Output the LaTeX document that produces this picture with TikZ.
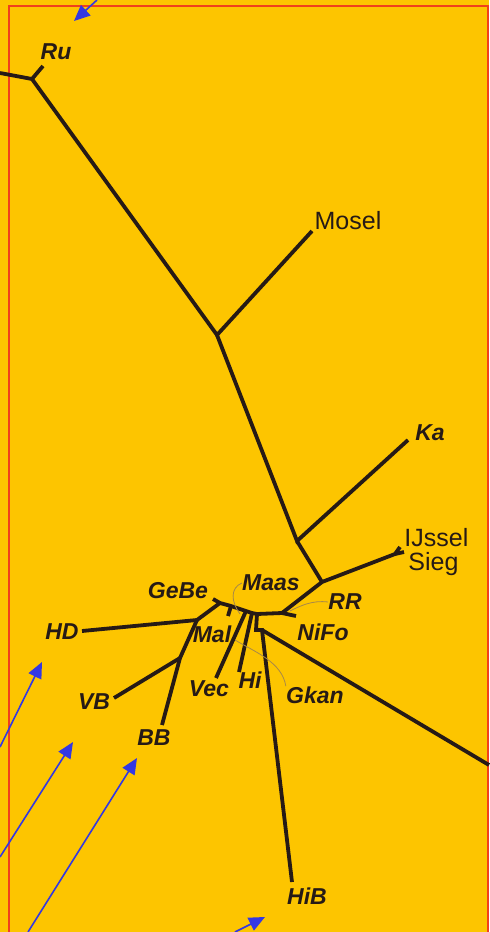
\documentclass[tikz,border=0pt]{standalone}
\usepackage{fontspec}
\setmainfont{Liberation Sans}
\usetikzlibrary{arrows.meta}

\definecolor{bg}{RGB}{253,197,0}
\definecolor{ink}{RGB}{38,26,22}
\definecolor{frame}{RGB}{240,64,28}
\definecolor{pointer}{RGB}{52,56,226}
\definecolor{leader}{RGB}{168,136,72}

\begin{document}
\begin{tikzpicture}[x=0.5pt,y=-0.5pt,
        branch/.style={draw=ink, line width=1.9pt},
        taxon/.style={font=\fontsize{11.5}{12}\selectfont\bfseries\itshape, text=ink, inner sep=0pt},
        river/.style={font=\fontsize{12.5}{13}\selectfont, text=ink, inner sep=0pt},
        lead/.style={draw=leader, line width=0.4pt},
        pointer/.style={draw=pointer, line width=0.8pt, -{Triangle[length=8pt,width=7pt]}}]
        \fill[bg] (0,0) rectangle (489,932);
        \useasboundingbox (0,0) rectangle (489,932);
        \draw[frame, line width=0.75pt] (9,932) -- (9,6) -- (488,6) -- (488,932);
        % inner nodes of the tree
        \coordinate (root) at (0,73);
        \coordinate (jRu) at (32,79);
        \coordinate (jMosel) at (217,335);
        \coordinate (jKa) at (297,541);
        \coordinate (jIJ) at (322,582);
        \coordinate (jSieg) at (395,554);
        \coordinate (jRR) at (282,613);
        \coordinate (jC) at (257,614);
        \coordinate (jHi) at (252,613);
        \coordinate (jVec) at (246,611);
        \coordinate (jMal) at (231,606);
        \coordinate (jGeBe) at (220,603);
        \coordinate (jHD) at (197,620);
        \coordinate (jVB) at (180,658);
        \coordinate (jGkan) at (256,630);
        \coordinate (jHiB) at (262,630);
        % tips
        \coordinate (tRu) at (43,66);
        \coordinate (tMosel) at (312,231);
        \coordinate (tKa) at (408,440);
        \coordinate (tIJssel) at (400,547);
        \coordinate (tSieg) at (404,552);
        \coordinate (tRR) at (296,616);
        \coordinate (tGeBe) at (213,599);
        \coordinate (tMal) at (228,616);
        \coordinate (tVec) at (216,678);
        \coordinate (tHi) at (239,672);
        \coordinate (tHD) at (82,631);
        \coordinate (tVB) at (114,698);
        \coordinate (tBB) at (162,725);
        \coordinate (tHiB) at (292,882);
        \coordinate (tEdge) at (489,765);
        % branches
        \draw[branch] (root) -- (jRu) -- (tRu);
        \draw[branch] (jRu) -- (jMosel) -- (tMosel);
        \draw[branch] (jMosel) -- (jKa) -- (tKa);
        \draw[branch] (jKa) -- (jIJ) -- (jSieg) -- (tIJssel);
        \draw[branch] (jSieg) -- (tSieg);
        \draw[branch] (jIJ) -- (jRR) -- (tRR);
        \draw[branch] (jRR) -- (jC) -- (jHi) -- (jVec) -- (jMal) -- (jGeBe) -- (tGeBe);
        \draw[branch] (jMal) -- (tMal);
        \draw[branch] (jVec) -- (tVec);
        \draw[branch] (jHi) -- (tHi);
        \draw[branch] (jGeBe) -- (jHD) -- (tHD);
        \draw[branch] (jHD) -- (jVB) -- (tBB);
        \draw[branch] (jVB) -- (tVB);
        \draw[branch] (jC) -- (jGkan) -- (jHiB) -- (tHiB);
        \draw[branch] (jHiB) -- (tEdge);
        % labels
        \node[taxon] (ru) at (56,52) {Ru};
        \node[river] (mosel) at (348,221) {Mosel};
        \node[taxon] (ka) at (430,433) {Ka};
        \node[river, anchor=west] (ijssel) at (404,538) {IJssel};
        \node[river, anchor=west] (sieg) at (408,564) {Sieg};
        \node[taxon] (gebe) at (178,591) {GeBe};
        \node[taxon] (maas) at (271,583) {Maas};
        \node[taxon] (rr) at (345,602) {RR};
        \node[taxon] (nifo) at (323,632) {NiFo};
        \node[taxon] (hd) at (62,632) {HD};
        \node[taxon] (mal) at (212,634) {Mal};
        \node[taxon] (vec) at (209,689) {Vec};
        \node[taxon] (hi) at (250,680) {Hi};
        \node[taxon] (gkan) at (315,695) {Gkan};
        \node[taxon] (vb) at (94,702) {VB};
        \node[taxon] (bb) at (154,738) {BB};
        \node[taxon] (hib) at (307,896) {HiB};
        % thin leaders
        \draw[lead] (maas.west) .. controls (230,588) and (231,602) .. (240,614);
        \draw[lead] (rr.west) .. controls (312,600) and (300,606) .. (290,611);
        \draw[lead] (gkan.north west) .. controls (282,662) and (255,652) .. (235,640);
        % blue pointers
        \coordinate (p1) at (0,747);   \coordinate (q1) at (42,662);
        \coordinate (p2) at (0,857);   \coordinate (q2) at (73,742);
        \coordinate (p3) at (28,932);  \coordinate (q3) at (137,758);
        \coordinate (p4) at (235,932); \coordinate (q4) at (265,917);
        \coordinate (p5) at (97,0);    \coordinate (q5) at (74,21);
        \draw[pointer] (p1) -- (q1);
        \draw[pointer] (p2) -- (q2);
        \draw[pointer] (p3) -- (q3);
        \draw[pointer] (p4) -- (q4);
        \draw[pointer] (p5) -- (q5);
    \end{tikzpicture}
\end{document}
